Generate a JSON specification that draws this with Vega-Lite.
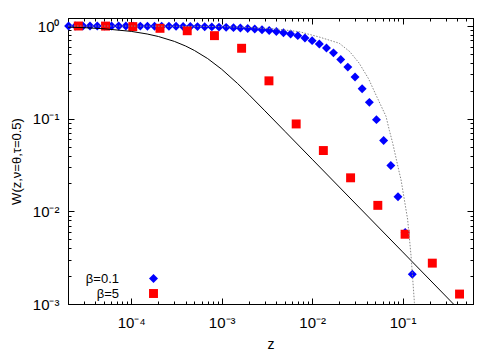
{
  "$schema": "https://vega.github.io/schema/vega-lite/v6.json",
  "width": 405,
  "height": 286,
  "autosize": {"type": "none"},
  "padding": {"left": 68, "top": 18, "right": 27, "bottom": 46},
  "config": {
    "font": "Liberation Sans",
    "view": {"stroke": "black", "strokeWidth": 1},
    "axis": {
      "domainColor": "black", "tickColor": "black", "grid": false,
      "labelFont": "Liberation Sans", "labelFontSize": 15, "labelColor": "black",
      "titleFont": "Liberation Sans", "titleFontSize": 14, "titleFontWeight": "normal", "titleColor": "black",
      "labelOverlap": false, "labelFlush": false
    }
  },
  "datasets": {
    "points": [
      {"z": 2.03e-5, "W": 0.9995, "series": "β=0.1"},
      {"z": 2.43e-5, "W": 0.9995, "series": "β=0.1"},
      {"z": 2.92e-5, "W": 0.9995, "series": "β=0.1"},
      {"z": 3.50e-5, "W": 0.999, "series": "β=0.1"},
      {"z": 4.21e-5, "W": 0.999, "series": "β=0.1"},
      {"z": 5.05e-5, "W": 0.999, "series": "β=0.1"},
      {"z": 6.06e-5, "W": 0.9985, "series": "β=0.1"},
      {"z": 7.27e-5, "W": 0.998, "series": "β=0.1"},
      {"z": 8.72e-5, "W": 0.998, "series": "β=0.1"},
      {"z": 1.05e-4, "W": 0.9975, "series": "β=0.1"},
      {"z": 1.26e-4, "W": 0.997, "series": "β=0.1"},
      {"z": 1.51e-4, "W": 0.996, "series": "β=0.1"},
      {"z": 1.81e-4, "W": 0.995, "series": "β=0.1"},
      {"z": 2.17e-4, "W": 0.994, "series": "β=0.1"},
      {"z": 2.61e-4, "W": 0.993, "series": "β=0.1"},
      {"z": 3.13e-4, "W": 0.992, "series": "β=0.1"},
      {"z": 3.75e-4, "W": 0.990, "series": "β=0.1"},
      {"z": 4.50e-4, "W": 0.988, "series": "β=0.1"},
      {"z": 5.40e-4, "W": 0.985, "series": "β=0.1"},
      {"z": 6.49e-4, "W": 0.982, "series": "β=0.1"},
      {"z": 7.78e-4, "W": 0.978, "series": "β=0.1"},
      {"z": 9.34e-4, "W": 0.973, "series": "β=0.1"},
      {"z": 1.12e-3, "W": 0.967, "series": "β=0.1"},
      {"z": 1.35e-3, "W": 0.960, "series": "β=0.1"},
      {"z": 1.61e-3, "W": 0.951, "series": "β=0.1"},
      {"z": 1.94e-3, "W": 0.940, "series": "β=0.1"},
      {"z": 2.32e-3, "W": 0.928, "series": "β=0.1"},
      {"z": 2.79e-3, "W": 0.912, "series": "β=0.1"},
      {"z": 3.35e-3, "W": 0.894, "series": "β=0.1"},
      {"z": 4.02e-3, "W": 0.872, "series": "β=0.1"},
      {"z": 4.82e-3, "W": 0.847, "series": "β=0.1"},
      {"z": 5.78e-3, "W": 0.82, "series": "β=0.1"},
      {"z": 6.94e-3, "W": 0.787, "series": "β=0.1"},
      {"z": 8.33e-3, "W": 0.743, "series": "β=0.1"},
      {"z": 1.00e-2, "W": 0.695, "series": "β=0.1"},
      {"z": 1.20e-2, "W": 0.640, "series": "β=0.1"},
      {"z": 1.44e-2, "W": 0.580, "series": "β=0.1"},
      {"z": 1.72e-2, "W": 0.513, "series": "β=0.1"},
      {"z": 2.07e-2, "W": 0.435, "series": "β=0.1"},
      {"z": 2.48e-2, "W": 0.360, "series": "β=0.1"},
      {"z": 2.98e-2, "W": 0.281, "series": "β=0.1"},
      {"z": 3.57e-2, "W": 0.210, "series": "β=0.1"},
      {"z": 4.29e-2, "W": 0.150, "series": "β=0.1"},
      {"z": 5.14e-2, "W": 0.0976, "series": "β=0.1"},
      {"z": 6.17e-2, "W": 0.058, "series": "β=0.1"},
      {"z": 7.41e-2, "W": 0.0313, "series": "β=0.1"},
      {"z": 8.89e-2, "W": 0.0144, "series": "β=0.1"},
      {"z": 1.067e-1, "W": 0.0059, "series": "β=0.1"},
      {"z": 1.28e-1, "W": 0.00209, "series": "β=0.1"},
      {"z": 2.6e-5, "W": 1.0, "series": "β=5"},
      {"z": 5.2e-5, "W": 0.998, "series": "β=5"},
      {"z": 1.04e-4, "W": 0.985, "series": "β=5"},
      {"z": 2.08e-4, "W": 0.944, "series": "β=5"},
      {"z": 4.16e-4, "W": 0.889, "series": "β=5"},
      {"z": 8.32e-4, "W": 0.787, "series": "β=5"},
      {"z": 1.66e-3, "W": 0.575, "series": "β=5"},
      {"z": 3.33e-3, "W": 0.256, "series": "β=5"},
      {"z": 6.66e-3, "W": 0.0877, "series": "β=5"},
      {"z": 1.33e-2, "W": 0.0453, "series": "β=5"},
      {"z": 2.66e-2, "W": 0.0230, "series": "β=5"},
      {"z": 5.32e-2, "W": 0.0116, "series": "β=5"},
      {"z": 1.065e-1, "W": 0.00566, "series": "β=5"},
      {"z": 2.13e-1, "W": 0.00276, "series": "β=5"},
      {"z": 4.26e-1, "W": 0.00128, "series": "β=5"}
    ],
    "solid": [
      {"z": 2e-5, "W": 0.973},
      {"z": 3e-5, "W": 0.960},
      {"z": 5e-5, "W": 0.934},
      {"z": 1e-4, "W": 0.875},
      {"z": 1.5e-4, "W": 0.820},
      {"z": 2e-4, "W": 0.770},
      {"z": 3e-4, "W": 0.682},
      {"z": 4e-4, "W": 0.6075},
      {"z": 5e-4, "W": 0.544},
      {"z": 7e-4, "W": 0.445},
      {"z": 1e-3, "W": 0.3414},
      {"z": 1.5e-3, "W": 0.2393},
      {"z": 2e-3, "W": 0.1818},
      {"z": 3e-3, "W": 0.1216},
      {"z": 5e-3, "W": 0.0730},
      {"z": 1e-2, "W": 0.0365},
      {"z": 1e-1, "W": 0.00365},
      {"z": 6e-1, "W": 0.000608}
    ],
    "dotted": [
      {"z": 2e-5, "W": 0.9996},
      {"z": 1e-4, "W": 0.9987},
      {"z": 5e-4, "W": 0.9925},
      {"z": 1e-3, "W": 0.984},
      {"z": 2e-3, "W": 0.966},
      {"z": 4e-3, "W": 0.929},
      {"z": 7.2e-3, "W": 0.868},
      {"z": 1.2e-2, "W": 0.76},
      {"z": 1.99e-2, "W": 0.652},
      {"z": 2.6e-2, "W": 0.53},
      {"z": 3.31e-2, "W": 0.397},
      {"z": 4.2e-2, "W": 0.27},
      {"z": 5.08e-2, "W": 0.18},
      {"z": 6.55e-2, "W": 0.106},
      {"z": 7.13e-2, "W": 0.075},
      {"z": 7.75e-2, "W": 0.055},
      {"z": 9.2e-2, "W": 0.0261},
      {"z": 9.6e-2, "W": 0.022},
      {"z": 1.136e-1, "W": 0.0082},
      {"z": 1.24e-1, "W": 0.0033},
      {"z": 1.35e-1, "W": 0.00104},
      {"z": 1.4e-1, "W": 0.0006}
    ]
  },
  "layer": [
    {
      "data": {"name": "points"},
      "mark": {"type": "point", "filled": true, "opacity": 1, "strokeWidth": 0},
      "encoding": {
        "x": {"field": "z", "type": "quantitative",
          "scale": {"type": "log", "domain": [2e-5, 0.6], "nice": false},
          "axis": {"orient": "bottom", "title": "z", "titleX": 202.5, "titleY": 40, "titleBaseline": "middle",
            "values": [2e-5,3e-5,4e-5,5e-5,6e-5,7e-5,8e-5,9e-5,1e-4,2e-4,3e-4,4e-4,5e-4,6e-4,7e-4,8e-4,9e-4,1e-3,2e-3,3e-3,4e-3,5e-3,6e-3,7e-3,8e-3,9e-3,1e-2,2e-2,3e-2,4e-2,5e-2,6e-2,7e-2,8e-2,9e-2,0.1,0.2,0.3,0.4,0.5,0.6],
            "labelExpr": "abs(log(datum.value)/LN10 - round(log(datum.value)/LN10)) > 0.001 ? '' : '10' + (round(log(datum.value)/LN10) == 0 ? '⁰' : round(log(datum.value)/LN10) == -1 ? '⁻¹' : round(log(datum.value)/LN10) == -2 ? '⁻²' : round(log(datum.value)/LN10) == -3 ? '⁻³' : round(log(datum.value)/LN10) == -4 ? '⁻⁴' : '⁻⁵')",
            "tickSize": {"condition": {"test": "abs(log(datum.value)/LN10 - round(log(datum.value)/LN10)) < 0.001", "value": -6}, "value": -3},
            "labelPadding": 17, "labelBaseline": "top"}},
        "y": {"field": "W", "type": "quantitative",
          "scale": {"type": "log", "domain": [0.001, 1.22], "nice": false},
          "axis": {"orient": "left", "title": "W(z,ν=θ,τ=0.5)", "titleX": -52, "titleY": 143, "titleBaseline": "middle", "titleAngle": -90, "titleFontSize": 13,
            "values": [0.001,0.002,0.003,0.004,0.005,0.006,0.007,0.008,0.009,0.01,0.02,0.03,0.04,0.05,0.06,0.07,0.08,0.09,0.1,0.2,0.3,0.4,0.5,0.6,0.7,0.8,0.9,1],
            "labelExpr": "abs(log(datum.value)/LN10 - round(log(datum.value)/LN10)) > 0.001 ? '' : '10' + (round(log(datum.value)/LN10) == 0 ? '⁰' : round(log(datum.value)/LN10) == -1 ? '⁻¹' : round(log(datum.value)/LN10) == -2 ? '⁻²' : round(log(datum.value)/LN10) == -3 ? '⁻³' : round(log(datum.value)/LN10) == -4 ? '⁻⁴' : '⁻⁵')",
            "tickSize": {"condition": {"test": "abs(log(datum.value)/LN10 - round(log(datum.value)/LN10)) < 0.001", "value": -6}, "value": -3},
            "labelPadding": 15}},
        "color": {"field": "series", "type": "nominal",
          "scale": {"domain": ["β=0.1", "β=5"], "range": ["#0000ff", "#ff0000"]},
          "legend": {"title": null, "orient": "none", "legendX": 79, "legendY": 254,
            "labelFontSize": 13, "labelFont": "Liberation Sans", "labelColor": "black", "labelAlign": "right", "labelOffset": -41,
            "symbolSize": 80, "symbolStrokeWidth": 0, "rowPadding": 1}},
        "shape": {"field": "series", "type": "nominal",
          "scale": {"domain": ["β=0.1", "β=5"], "range": ["diamond", "square"]}},
        "size": {"value": 80}
      }
    },
    {
      "data": {"name": "solid"},
      "mark": {"type": "line", "color": "black", "strokeWidth": 1, "clip": true},
      "encoding": {
        "x": {"field": "z", "type": "quantitative",
          "scale": {"type": "log", "domain": [2e-5, 0.6], "nice": false},
          "axis": {"orient": "top", "title": null, "labels": false,
            "values": [2e-5,3e-5,4e-5,5e-5,6e-5,7e-5,8e-5,9e-5,1e-4,2e-4,3e-4,4e-4,5e-4,6e-4,7e-4,8e-4,9e-4,1e-3,2e-3,3e-3,4e-3,5e-3,6e-3,7e-3,8e-3,9e-3,1e-2,2e-2,3e-2,4e-2,5e-2,6e-2,7e-2,8e-2,9e-2,0.1,0.2,0.3,0.4,0.5,0.6],
            "tickSize": {"condition": {"test": "abs(log(datum.value)/LN10 - round(log(datum.value)/LN10)) < 0.001", "value": -6}, "value": -3}}},
        "y": {"field": "W", "type": "quantitative",
          "scale": {"type": "log", "domain": [0.001, 1.22], "nice": false},
          "axis": {"orient": "right", "title": null, "labels": false,
            "values": [0.001,0.002,0.003,0.004,0.005,0.006,0.007,0.008,0.009,0.01,0.02,0.03,0.04,0.05,0.06,0.07,0.08,0.09,0.1,0.2,0.3,0.4,0.5,0.6,0.7,0.8,0.9,1],
            "tickSize": {"condition": {"test": "abs(log(datum.value)/LN10 - round(log(datum.value)/LN10)) < 0.001", "value": -6}, "value": -3}}}
      }
    },
    {
      "data": {"name": "dotted"},
      "mark": {"type": "line", "color": "#888888", "strokeWidth": 1, "strokeDash": [1.5, 1.5], "clip": true},
      "encoding": {
        "x": {"field": "z", "type": "quantitative", "scale": {"type": "log", "domain": [2e-5, 0.6], "nice": false}, "axis": null},
        "y": {"field": "W", "type": "quantitative", "scale": {"type": "log", "domain": [0.001, 1.22], "nice": false}, "axis": null}
      }
    }
  ],
  "resolve": {"axis": {"x": "independent", "y": "independent"}}
}
